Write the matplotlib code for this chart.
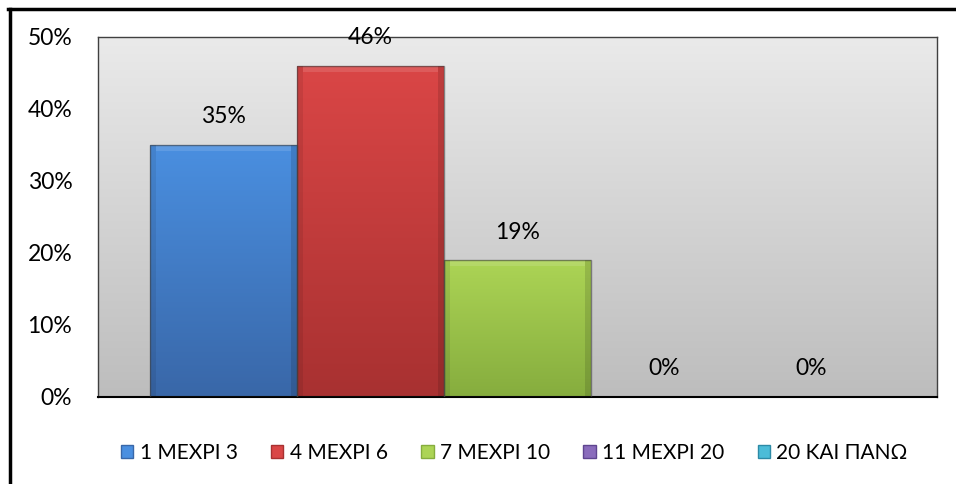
import numpy as np
import matplotlib
matplotlib.use("Agg")
import matplotlib.pyplot as plt
from matplotlib.patches import Rectangle
from matplotlib.lines import Line2D
from matplotlib.colors import LinearSegmentedColormap

plt.rcParams['font.family'] = ['Lato', 'Noto Sans', 'DejaVu Sans']

categories = ['1 ΜΕΧΡΙ 3', '4 ΜΕΧΡΙ 6', '7 ΜΕΧΡΙ 10', '11 ΜΕΧΡΙ 20', '20 ΚΑΙ ΠΑΝΩ']
values = [35, 46, 19, 0, 0]
# (top, bottom) shades for each series
shades = [('#4a8fe0', '#3967a8'),
          ('#da4646', '#a83131'),
          ('#acd455', '#86ad3e'),
          ('#8a6cbc', '#5f4590'),
          ('#4cbcd8', '#2d8aa6')]

FS = 16.5
LEG_FS = 15

fig = plt.figure(figsize=(9.56, 4.84), dpi=100)
ax = fig.add_axes([0.1025, 0.180, 0.8775, 0.7436])

x = np.arange(len(values))
width = 1.0
ax.set_xlim(-0.5 - 0.354, len(values) - 0.5 + 0.354)
ax.set_ylim(0, 50)

# gray gradient plot area
bg = LinearSegmentedColormap.from_list('bg', ['#bdbdbd', '#eaeaea'])
ax.imshow(np.linspace(0, 1, 256).reshape(-1, 1), cmap=bg, aspect='auto',
          extent=[*ax.get_xlim(), 0, 50], origin='lower', zorder=0)

bars = ax.bar(x, values, width=width, color='none', edgecolor='none', zorder=2)
for bar, (top, bot), v in zip(bars, shades, values):
    if v > 0:
        cmap = LinearSegmentedColormap.from_list('b', [bot, top])
        x0 = bar.get_x()
        im = ax.imshow(np.linspace(0, 1, 128).reshape(-1, 1), cmap=cmap, aspect='auto',
                       extent=[x0, x0 + width, 0, v], origin='lower', zorder=2)
        im.set_clip_path(bar)
        # bevel: light top edge, darker sides
        ax.add_patch(Rectangle((x0 + 0.04, v - 0.8), width - 0.08, 0.8,
                               facecolor='white', alpha=0.12, edgecolor='none', zorder=3))
        ax.add_patch(Rectangle((x0, 0), 0.04, v, facecolor='black', alpha=0.08,
                               edgecolor='none', zorder=3))
        ax.add_patch(Rectangle((x0 + width - 0.04, 0), 0.04, v, facecolor='black',
                               alpha=0.12, edgecolor='none', zorder=3))
        ax.add_patch(Rectangle((x0, 0), width, v, facecolor='none',
                               edgecolor='#404040', linewidth=1.0, alpha=0.6, zorder=4))
    ax.text(bar.get_x() + width / 2, v + 3.9, f'{v}%', ha='center', va='center',
            fontsize=FS, color='black', zorder=5)

ax.set_yticks(range(0, 51, 10))
ax.set_yticklabels([f'{t}%' for t in range(0, 51, 10)], fontsize=FS)
ax.tick_params(axis='y', length=0, pad=18.5)
ax.set_xticks([])
for side in ['top', 'right', 'left']:
    ax.spines[side].set_color('#404040')
    ax.spines[side].set_linewidth(1.0)
ax.spines['bottom'].set_color('black')
ax.spines['bottom'].set_linewidth(1.5)

handles = [Rectangle((0, 0), 1, 1, facecolor=top, edgecolor=bot, linewidth=1.0)
           for top, bot in shades]
fig.legend(handles, categories, loc='center', bbox_to_anchor=(0.538, 0.064), ncol=5,
           frameon=False, fontsize=LEG_FS, handlelength=0.6, handleheight=0.6,
           handletextpad=0.3, columnspacing=1.6)

# outer frame lines (top and left)
fig.add_artist(Line2D([8 / 956, 1.0], [1 - 9 / 484, 1 - 9 / 484], color='black',
                      linewidth=2.5, transform=fig.transFigure))
fig.add_artist(Line2D([10 / 956, 10 / 956], [0, 1 - 9 / 484], color='black',
                      linewidth=2.5, transform=fig.transFigure))

fig.savefig('out.png', dpi=100)
